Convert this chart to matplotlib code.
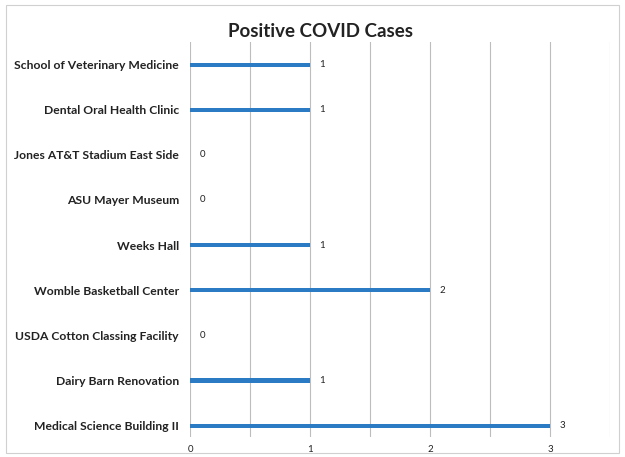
import matplotlib.pyplot as plt
import matplotlib.patches as mpatches
import numpy as np

# datos
sites = ['School of Veterinary Medicine', 'Dental Oral Health Clinic',
         'Jones AT&T Stadium East Side', 'ASU Mayer Museum', 'Weeks Hall',
         'Womble Basketball Center', 'USDA Cotton Classing Facility',
         'Dairy Barn Renovation', 'Medical Science Building II']
cases = [1, 1, 0, 0, 1, 2, 0, 1, 3]
xticks = [0, 1, 2, 3]

plt.rcParams['font.family'] = ['Lato', 'DejaVu Sans']

fig = plt.figure(figsize=(6.25, 4.57), dpi=100)
ax = fig.add_axes([0.304, 0.044, 0.672, 0.864])

y = np.arange(len(sites))
ax.barh(y, cases, height=0.09, color='#2a7bc4', zorder=3)
for yi, v in zip(y, cases):
    ax.text(v + 0.08, yi, str(v), va='center', ha='left', fontsize=7,
            color='#222222')

ax.set_xlim(0, 3.5)
ax.set_ylim(8.25, -0.5)
ax.set_yticks(y)
ax.set_yticklabels(sites, fontsize=8.7, fontweight='bold', color='#222222')
ax.set_xticks(xticks)
ax.set_xticklabels([str(t) for t in xticks], fontsize=7, color='#222222')
ax.set_xticks(np.arange(0, 3.51, 0.5), minor=True)
ax.tick_params(axis='both', which='both', length=0)
ax.tick_params(axis='y', pad=8)
ax.tick_params(axis='x', pad=6)

ax.grid(True, axis='x', which='both', color='#bdbdbd', linewidth=0.8, zorder=0)
for s in ax.spines.values():
    s.set_visible(False)

fig.text(0.512, 0.93, 'Positive COVID Cases', ha='center', va='center',
         fontsize=13.5, fontweight='bold', color='#222222')

# borde del grafico
fig.patches.append(mpatches.Rectangle((0.01, 0.008), 0.98, 0.982,
                                      transform=fig.transFigure, fill=False,
                                      edgecolor='#d0d0d0', linewidth=0.8))

fig.savefig('out.png', dpi=100)
